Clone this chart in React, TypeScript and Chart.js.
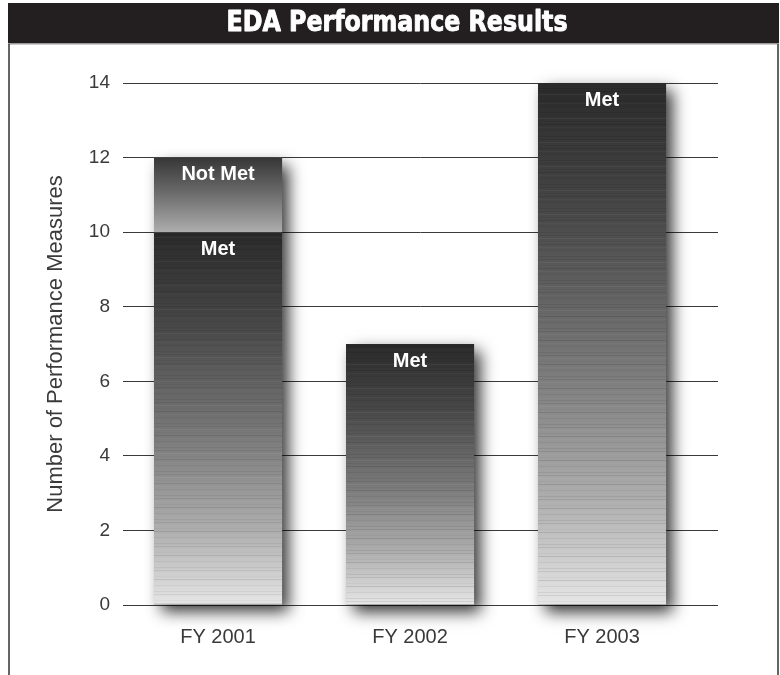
import React, { useEffect, useRef } from 'react';
import { Chart, registerables } from 'chart.js';

Chart.register(...registerables);

const chartTitle = 'EDA Performance Results';
const yAxisTitle = 'Number of Performance Measures';
const categories = ['FY 2001', 'FY 2002', 'FY 2003'];
const seriesLabels = ['Met', 'Not Met'];
const metValues = [10, 7, 14];
const notMetValues = [2, 0, 0];
const yTicks = [0, 2, 4, 6, 8, 10, 12, 14];

const FONT = '"Liberation Sans", Arial, Helvetica, sans-serif';
const TITLE_FONT = '"Liberation Sans Narrow", "DejaVu Sans Condensed", "Liberation Sans", Arial, sans-serif';
const stripeAlphas = [0.08, -0.05, 0.03, 0.1, -0.03, 0.05, 0.0, 0.07];

function metGradient(ctx: any) {
  const chart = ctx.chart;
  const ys = chart.scales && chart.scales.y;
  if (!ys || ctx.type !== 'data') return '#777';
  const base = ys.getPixelForValue(0);
  const top = ys.getPixelForValue(metValues[ctx.dataIndex]);
  if (!isFinite(base) || !isFinite(top) || top >= base) return '#777';
  const g = chart.ctx.createLinearGradient(0, top, 0, base);
  g.addColorStop(0, '#2a2a2a');
  g.addColorStop(0.25, '#484848');
  g.addColorStop(0.55, '#7a7a7a');
  g.addColorStop(0.8, '#aeaeae');
  g.addColorStop(1, '#e6e6e6');
  return g;
}

function notMetGradient(ctx: any) {
  const chart = ctx.chart;
  const ys = chart.scales && chart.scales.y;
  if (!ys || ctx.type !== 'data') return '#777';
  const i = ctx.dataIndex;
  const base = ys.getPixelForValue(metValues[i]);
  const top = ys.getPixelForValue(metValues[i] + notMetValues[i]);
  if (!isFinite(base) || !isFinite(top) || top >= base) return '#777';
  const g = chart.ctx.createLinearGradient(0, top, 0, base);
  g.addColorStop(0, '#363636');
  g.addColorStop(0.5, '#6e6e6e');
  g.addColorStop(1, '#adadad');
  return g;
}

const framePlugin = {
  id: 'frame',
  beforeDraw(chart: any) {
    const { ctx, width, height } = chart;
    ctx.save();
    ctx.fillStyle = '#ffffff';
    ctx.fillRect(0, 0, width, height);
    ctx.fillStyle = '#231f20';
    ctx.fillRect(8, 3, 771, 41);
    ctx.fillStyle = '#9a9a9a';
    ctx.fillRect(8, 43, 771, 1.5);
    ctx.strokeStyle = '#333';
    ctx.lineWidth = 1.5;
    ctx.beginPath();
    ctx.moveTo(9, 44);
    ctx.lineTo(9, height);
    ctx.moveTo(778, 44);
    ctx.lineTo(778, height);
    ctx.stroke();
    ctx.fillStyle = '#ffffff';
    ctx.strokeStyle = '#ffffff';
    ctx.lineWidth = 0.9;
    ctx.lineJoin = 'round';
    ctx.font = `bold 28px ${TITLE_FONT}`;
    ctx.textAlign = 'center';
    ctx.textBaseline = 'middle';
    const w = ctx.measureText(chartTitle).width;
    const sx = 341 / w;
    ctx.translate(397, 24);
    ctx.scale(sx, 1);
    ctx.fillText(chartTitle, 0, 0);
    ctx.strokeText(chartTitle, 0, 0);
    ctx.restore();
  },
};

const barDecorPlugin = {
  id: 'barDecor',
  beforeDatasetsDraw(chart: any) {
    const { ctx } = chart;
    const m0 = chart.getDatasetMeta(0);
    const m1 = chart.getDatasetMeta(1);
    ctx.save();
    ctx.shadowColor = 'rgba(0,0,0,0.8)';
    ctx.shadowBlur = 15;
    ctx.shadowOffsetX = 7;
    ctx.shadowOffsetY = 7;
    ctx.fillStyle = '#777';
    m0.data.forEach((el: any, i: number) => {
      const e1 = m1.data[i];
      const top = Math.min(el.y, e1 ? e1.y : el.y);
      const w = el.width;
      ctx.fillRect(el.x - w / 2, top, w, el.base - top);
    });
    ctx.restore();
  },
  afterDatasetsDraw(chart: any) {
    const { ctx } = chart;
    const m0 = chart.getDatasetMeta(0);
    const m1 = chart.getDatasetMeta(1);
    ctx.save();
    m0.data.forEach((el: any, i: number) => {
      const left = el.x - el.width / 2;
      let k = i * 3;
      for (let y = el.y + 2; y < el.base - 1; y += 3) {
        const a = stripeAlphas[k % stripeAlphas.length];
        k++;
        if (a === 0) continue;
        ctx.fillStyle = a > 0 ? `rgba(0,0,0,${a})` : `rgba(255,255,255,${-a})`;
        ctx.fillRect(left, y, el.width, 1);
      }
    });
    ctx.fillStyle = '#ffffff';
    ctx.font = `bold 20px ${FONT}`;
    ctx.textAlign = 'center';
    ctx.textBaseline = 'middle';
    m0.data.forEach((el: any, i: number) => {
      if (metValues[i] > 0) ctx.fillText(seriesLabels[0], el.x, el.y + 17);
    });
    m1.data.forEach((el: any, i: number) => {
      if (notMetValues[i] > 0) ctx.fillText(seriesLabels[1], el.x, el.y + 17);
    });
    ctx.restore();
  },
};

export default function App() {
  const ref = useRef<HTMLCanvasElement | null>(null);
  useEffect(() => {
    if (!ref.current) return;
    const chart = new Chart(ref.current, {
      type: 'bar',
      data: {
        datasets: [
          {
            label: seriesLabels[0],
            data: metValues.map((v, i) => ({ x: i + 1, y: v })),
            backgroundColor: metGradient,
            borderWidth: 0,
            barPercentage: 0.667,
            categoryPercentage: 1,
          },
          {
            label: seriesLabels[1],
            data: notMetValues.map((v, i) => ({ x: i + 1, y: v })),
            backgroundColor: notMetGradient,
            borderWidth: 0,
            barPercentage: 0.667,
            categoryPercentage: 1,
          },
        ],
      } as any,
      options: {
        responsive: false,
        animation: false,
        layout: { padding: { top: 83, right: 62, left: 0, bottom: 0 } },
        plugins: {
          legend: { display: false },
          tooltip: { enabled: false },
          title: { display: false },
        },
        scales: {
          x: {
            type: 'linear',
            stacked: true,
            offset: false,
            min: 0.505,
            max: 3.604,
            grid: { display: false },
            border: { display: false },
            afterBuildTicks: (s: any) => {
              s.ticks = categories.map((_, i) => ({ value: i + 1 }));
            },
            afterFit: (s: any) => {
              s.height = 70;
            },
            ticks: {
              autoSkip: false,
              maxRotation: 0,
              padding: 12,
              color: '#3a3a3a',
              font: { family: FONT, size: 20 },
              callback: (v: any) => categories[Math.round(v) - 1] ?? '',
            },
          },
          y: {
            stacked: true,
            min: 0,
            max: 14,
            afterBuildTicks: (s: any) => {
              s.ticks = yTicks.map((v) => ({ value: v }));
            },
            afterFit: (s: any) => {
              s.width = 123;
            },
            grid: { color: '#3a3a3a', lineWidth: 1, drawTicks: false },
            border: { display: false },
            ticks: {
              padding: 13,
              color: '#3a3a3a',
              font: { family: FONT, size: 19 },
            },
            title: {
              display: true,
              text: yAxisTitle,
              color: '#3a3a3a',
              font: { family: FONT, size: 22 },
              padding: { top: 43, bottom: 0 },
            },
          },
        },
      } as any,
      plugins: [framePlugin, barDecorPlugin],
    });
    return () => chart.destroy();
  }, []);
  return (
    <div style={{ position: 'absolute', left: 0, top: 0, width: 780, height: 675 }}>
      <canvas ref={ref} width={780} height={675} style={{ display: 'block' }} />
    </div>
  );
}
